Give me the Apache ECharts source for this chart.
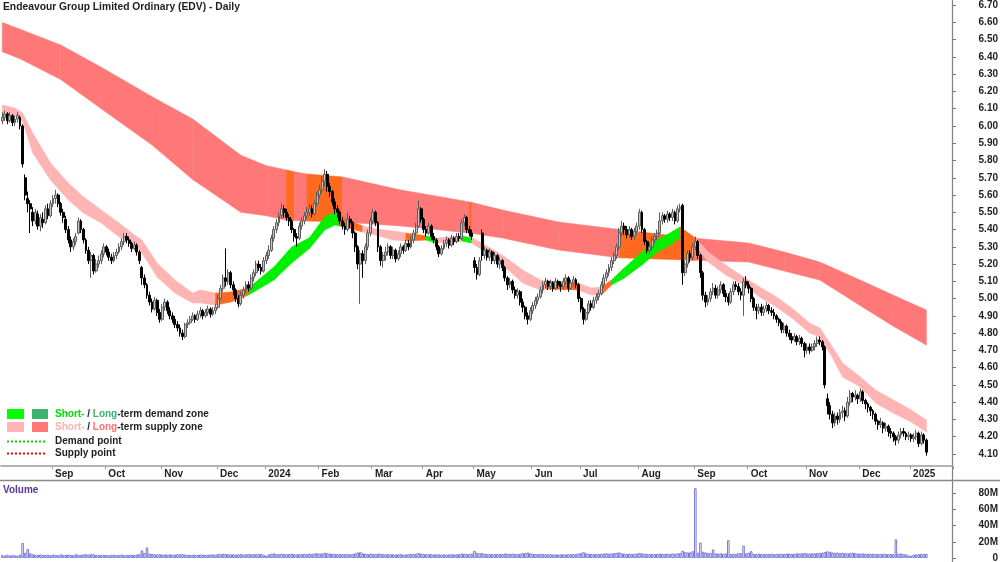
<!DOCTYPE html>
<html>
<head>
<meta charset="utf-8">
<script src="https://cdn.jsdelivr.net/npm/echarts@6/dist/echarts.min.js"></script>
<style>html,body{margin:0;padding:0;background:#fff}#chart{width:1000px;height:562px}</style>
</head>
<body>
<div id="chart"></div>
<script>
// daily candles, [open, close, low, high], from 4 Aug 2023
const ohlc = [
[6.03,6.05,6.01,6.08],[6.05,6.07,6.03,6.09],[6.07,6.03,6.01,6.08],[6.03,6.06,6.02,6.08],[6.06,6.02,6.00,6.07],
[6.02,6.04,6.00,6.06],[6.04,6.06,6.02,6.08],[6.05,6.00,5.98,6.06],[6.00,5.78,5.76,6.01],[5.70,5.60,5.57,5.72],
[5.58,5.55,5.50,5.62],[5.55,5.52,5.38,5.57],[5.50,5.45,5.42,5.53],[5.45,5.50,5.43,5.52],[5.49,5.42,5.40,5.51],
[5.42,5.47,5.39,5.49],[5.46,5.44,5.41,5.50],[5.44,5.52,5.43,5.54],[5.52,5.48,5.46,5.55],[5.48,5.55,5.47,5.57],
[5.55,5.58,5.53,5.60],[5.58,5.60,5.55,5.63],[5.60,5.55,5.53,5.61],[5.55,5.50,5.48,5.56],[5.50,5.47,5.44,5.52],
[5.46,5.40,5.38,5.48],[5.40,5.34,5.32,5.42],[5.34,5.30,5.27,5.36],[5.30,5.33,5.28,5.35],[5.33,5.36,5.31,5.38],
[5.38,5.45,5.37,5.47],[5.45,5.40,5.38,5.46],[5.40,5.34,5.32,5.41],[5.34,5.28,5.26,5.35],[5.28,5.22,5.20,5.30],
[5.22,5.25,5.12,5.27],[5.25,5.16,5.14,5.26],[5.16,5.20,5.15,5.23],[5.20,5.22,5.18,5.25],[5.22,5.26,5.20,5.28],
[5.26,5.30,5.24,5.32],[5.30,5.27,5.25,5.31],[5.27,5.24,5.22,5.29],[5.24,5.22,5.20,5.26],[5.22,5.25,5.21,5.27],
[5.25,5.27,5.23,5.29],[5.27,5.30,5.26,5.32],[5.30,5.33,5.28,5.35],[5.33,5.36,5.31,5.38],[5.36,5.34,5.32,5.38],
[5.34,5.32,5.30,5.36],[5.32,5.29,5.27,5.33],[5.29,5.31,5.28,5.33],[5.31,5.27,5.25,5.32],[5.27,5.22,5.20,5.28],
[5.18,5.12,5.08,5.19],[5.12,5.08,5.06,5.14],[5.08,5.02,5.00,5.09],[5.02,4.98,4.96,5.04],[4.98,4.94,4.92,5.00],
[4.94,4.99,4.93,5.01],[4.99,4.92,4.90,5.00],[4.92,4.88,4.86,4.94],[4.88,4.95,4.87,4.97],[4.95,4.98,4.93,5.00],
[4.98,4.93,4.91,4.99],[4.93,4.90,4.88,4.95],[4.90,4.88,4.86,4.92],[4.88,4.85,4.83,4.90],[4.85,4.83,4.81,4.87],
[4.83,4.80,4.78,4.85],[4.80,4.78,4.76,4.82],[4.78,4.85,4.77,4.86],[4.85,4.86,4.83,4.88],[4.86,4.88,4.85,4.90],
[4.88,4.90,4.87,4.92],[4.90,4.88,4.86,4.91],[4.88,4.91,4.87,4.93],[4.91,4.93,4.89,4.95],[4.93,4.90,4.88,4.94],
[4.90,4.92,4.89,4.94],[4.92,4.94,4.90,4.96],[4.94,4.91,4.89,4.95],[4.91,4.93,4.90,4.95],[4.93,4.95,4.91,4.97],
[4.95,5.00,4.94,5.02],[5.00,5.06,4.99,5.08],[5.06,5.12,5.04,5.14],[5.12,5.10,5.07,5.29],[5.10,5.15,5.08,5.17],
[5.15,5.08,5.06,5.16],[5.08,5.05,5.02,5.10],[5.05,5.00,4.98,5.06],[5.00,4.97,4.95,5.02],[4.97,5.02,4.96,5.04],
[5.02,5.05,5.00,5.07],[5.05,5.08,5.03,5.10],[5.08,5.06,5.04,5.10],[5.06,5.12,5.05,5.14],[5.12,5.15,5.10,5.17],
[5.15,5.20,5.13,5.22],[5.20,5.18,5.16,5.22],[5.18,5.16,5.14,5.20],[5.16,5.22,5.15,5.24],[5.22,5.25,5.20,5.27],
[5.25,5.28,5.23,5.31],[5.28,5.35,5.27,5.37],[5.35,5.40,5.33,5.42],[5.40,5.44,5.38,5.46],[5.44,5.48,5.42,5.50],
[5.48,5.52,5.46,5.55],[5.52,5.50,5.47,5.54],[5.50,5.47,5.45,5.52],[5.47,5.45,5.42,5.49],[5.45,5.40,5.38,5.46],
[5.40,5.36,5.33,5.41],[5.36,5.35,5.30,5.38],[5.35,5.42,5.34,5.44],[5.42,5.45,5.40,5.47],[5.45,5.48,5.43,5.50],
[5.48,5.50,5.46,5.53],[5.50,5.52,5.48,5.55],[5.52,5.49,5.47,5.54],[5.49,5.55,5.48,5.57],[5.55,5.60,5.53,5.62],
[5.60,5.63,5.58,5.66],[5.63,5.68,5.61,5.71],[5.68,5.72,5.65,5.75],[5.72,5.65,5.62,5.74],[5.65,5.62,5.59,5.67],
[5.62,5.56,5.54,5.63],[5.56,5.52,5.49,5.58],[5.52,5.50,5.47,5.54],[5.50,5.45,5.43,5.51],[5.45,5.42,5.40,5.47],
[5.42,5.40,5.37,5.44],[5.40,5.46,5.39,5.50],[5.46,5.44,5.41,5.48],[5.44,5.38,5.35,5.45],[5.38,5.30,5.27,5.39],
[5.30,5.20,5.17,5.31],[5.20,5.26,4.97,5.28],[5.26,5.22,5.12,5.28],[5.22,5.30,5.20,5.32],[5.30,5.38,5.28,5.40],
[5.38,5.45,5.36,5.47],[5.45,5.50,5.43,5.52],[5.50,5.44,5.42,5.51],[5.44,5.30,5.27,5.45],[5.30,5.22,5.19,5.31],
[5.22,5.25,5.18,5.27],[5.25,5.27,5.22,5.30],[5.27,5.30,5.25,5.32],[5.30,5.25,5.23,5.31],[5.25,5.28,5.23,5.30],
[5.28,5.23,5.21,5.29],[5.23,5.26,5.22,5.28],[5.26,5.30,5.24,5.32],[5.30,5.28,5.26,5.31],[5.28,5.32,5.27,5.34],
[5.32,5.30,5.28,5.34],[5.30,5.34,5.29,5.36],[5.34,5.38,5.32,5.40],[5.38,5.42,5.36,5.44],[5.42,5.52,5.41,5.57],
[5.52,5.46,5.44,5.53],[5.46,5.40,5.38,5.47],[5.40,5.38,5.36,5.42],[5.38,5.42,5.37,5.44],[5.42,5.36,5.34,5.43],
[5.36,5.34,5.32,5.38],[5.34,5.30,5.28,5.35],[5.30,5.26,5.24,5.31],[5.26,5.29,5.25,5.31],[5.29,5.32,5.28,5.34],
[5.32,5.34,5.30,5.36],[5.34,5.31,5.29,5.35],[5.31,5.35,5.30,5.37],[5.35,5.33,5.31,5.36],[5.33,5.36,5.32,5.38],
[5.36,5.35,5.33,5.38],[5.35,5.44,5.34,5.46],[5.44,5.47,5.42,5.49],[5.47,5.40,5.38,5.48],[5.40,5.38,5.36,5.42],
[5.38,5.36,5.34,5.40],[5.22,5.18,5.15,5.24],[5.18,5.14,5.11,5.20],[5.14,5.22,5.13,5.24],[5.38,5.25,5.22,5.40],
[5.25,5.28,5.23,5.30],[5.28,5.24,5.22,5.29],[5.24,5.27,5.22,5.29],[5.27,5.22,5.20,5.28],[5.22,5.25,5.20,5.27],
[5.25,5.20,5.18,5.26],[5.20,5.22,5.17,5.24],[5.22,5.18,5.16,5.23],[5.18,5.12,5.10,5.19],[5.12,5.08,5.05,5.13],
[5.08,5.10,5.06,5.12],[5.10,5.05,5.03,5.11],[5.05,5.02,5.00,5.07],[5.02,5.04,5.00,5.06],[5.04,4.98,4.96,5.05],
[4.98,4.95,4.92,5.00],[4.95,4.90,4.88,4.96],[4.90,4.88,4.85,4.92],[4.88,4.93,4.87,4.95],[4.93,4.96,4.91,4.98],
[4.96,4.99,4.94,5.01],[4.99,5.01,4.97,5.03],[5.01,5.05,5.00,5.07],[5.05,5.08,5.03,5.10],[5.08,5.10,5.06,5.12],
[5.10,5.07,5.05,5.11],[5.07,5.09,5.05,5.11],[5.09,5.06,5.04,5.10],[5.06,5.10,5.05,5.12],[5.10,5.08,5.06,5.11],
[5.08,5.07,5.04,5.10],[5.07,5.10,5.05,5.12],[5.10,5.12,5.08,5.14],[5.12,5.06,5.04,5.13],[5.06,5.09,5.05,5.11],
[5.09,5.11,5.07,5.13],[5.11,5.08,5.06,5.12],[5.08,5.00,4.98,5.09],[5.00,4.94,4.92,5.01],[4.94,4.88,4.85,4.95],
[4.88,4.92,4.87,4.94],[4.92,4.97,4.91,4.99],[4.97,4.95,4.93,4.99],[4.95,4.99,4.94,5.01],[4.99,5.01,4.97,5.03],
[5.01,5.03,4.99,5.05],[5.03,5.08,5.02,5.10],[5.08,5.12,5.06,5.14],[5.12,5.15,5.10,5.17],[5.15,5.18,5.13,5.20],
[5.18,5.22,5.16,5.24],[5.22,5.25,5.20,5.27],[5.25,5.30,5.23,5.32],[5.30,5.38,5.28,5.41],[5.38,5.42,5.36,5.45],
[5.42,5.40,5.37,5.44],[5.40,5.37,5.35,5.42],[5.37,5.40,5.35,5.42],[5.40,5.36,5.34,5.41],[5.36,5.39,5.34,5.41],
[5.39,5.42,5.37,5.44],[5.42,5.50,5.40,5.52],[5.50,5.40,5.38,5.51],[5.40,5.33,5.31,5.41],[5.33,5.28,5.26,5.34],
[5.28,5.30,5.26,5.32],[5.30,5.34,5.28,5.36],[5.34,5.36,5.32,5.38],[5.36,5.38,5.34,5.40],[5.38,5.45,5.37,5.50],
[5.45,5.48,5.43,5.50],[5.48,5.46,5.44,5.49],[5.46,5.49,5.44,5.51],[5.49,5.47,5.45,5.50],[5.47,5.50,5.45,5.52],
[5.50,5.45,5.43,5.51],[5.45,5.52,5.44,5.54],[5.52,5.53,5.50,5.55],[5.54,5.15,5.08,5.55],[5.15,5.20,5.13,5.22],
[5.20,5.26,5.18,5.28],[5.26,5.24,5.21,5.28],[5.24,5.30,5.22,5.32],[5.30,5.33,5.28,5.36],[5.33,5.25,5.23,5.34],
[5.25,5.15,5.12,5.26],[5.15,5.02,4.99,5.16],[5.02,4.98,4.95,5.04],[4.98,5.00,4.96,5.02],[5.00,5.04,4.98,5.06],
[5.04,5.06,5.02,5.09],[5.06,5.02,5.00,5.08],[5.02,5.05,5.00,5.07],[5.05,5.08,5.03,5.10],[5.08,5.03,5.01,5.09],
[5.03,5.01,4.98,5.05],[5.01,4.98,4.96,5.03],[4.98,5.04,4.97,5.06],[5.04,5.08,5.02,5.10],[5.08,5.07,5.05,5.10],
[5.07,5.04,5.02,5.09],[5.04,5.02,4.99,5.06],[5.02,5.10,4.90,5.12],[5.10,5.08,5.06,5.13],[5.08,5.06,5.03,5.10],
[5.06,5.00,4.98,5.07],[5.00,4.95,4.93,5.01],[4.95,4.93,4.88,4.97],[4.93,4.95,4.91,4.97],[4.95,4.92,4.90,4.97],
[4.92,4.94,4.90,4.96],[4.94,4.96,4.92,4.98],[4.96,4.93,4.91,4.97],[4.93,4.92,4.90,4.95],[4.92,4.90,4.88,4.94],
[4.90,4.88,4.86,4.91],[4.88,4.86,4.84,4.89],[4.86,4.82,4.80,4.87],[4.82,4.84,4.80,4.86],[4.84,4.80,4.78,4.85],
[4.80,4.78,4.76,4.82],[4.78,4.76,4.74,4.80],[4.76,4.78,4.75,4.80],[4.78,4.75,4.73,4.79],[4.75,4.77,4.73,4.79],
[4.77,4.74,4.72,4.78],[4.74,4.70,4.66,4.75],[4.70,4.72,4.68,4.74],[4.72,4.70,4.68,4.74],[4.70,4.72,4.69,4.74],
[4.72,4.74,4.70,4.76],[4.74,4.76,4.72,4.78],[4.76,4.75,4.73,4.78],[4.75,4.72,4.70,4.76],[4.72,4.50,4.48,4.73],
[4.42,4.38,4.33,4.45],[4.38,4.33,4.30,4.40],[4.33,4.28,4.25,4.35],[4.28,4.32,4.26,4.34],[4.32,4.30,4.27,4.34],
[4.30,4.34,4.28,4.36],[4.34,4.35,4.31,4.38],[4.35,4.32,4.29,4.37],[4.32,4.40,4.31,4.43],[4.40,4.45,4.38,4.47],
[4.45,4.43,4.40,4.46],[4.43,4.44,4.41,4.47],[4.44,4.42,4.39,4.45],[4.42,4.46,4.40,4.48],[4.46,4.41,4.39,4.47],
[4.41,4.39,4.36,4.42],[4.39,4.37,4.34,4.40],[4.37,4.35,4.32,4.38],[4.35,4.33,4.30,4.36],[4.33,4.29,4.27,4.34],
[4.29,4.27,4.24,4.30],[4.27,4.28,4.25,4.31],[4.28,4.25,4.22,4.29],[4.25,4.26,4.23,4.28],[4.26,4.23,4.20,4.27],
[4.23,4.22,4.19,4.25],[4.22,4.20,4.17,4.23],[4.20,4.18,4.15,4.21],[4.18,4.21,4.16,4.23],[4.21,4.23,4.19,4.25],
[4.23,4.22,4.20,4.25],[4.22,4.20,4.18,4.23],[4.20,4.21,4.18,4.23],[4.21,4.19,4.17,4.22],[4.19,4.20,4.17,4.22],
[4.20,4.22,4.18,4.24],[4.22,4.16,4.14,4.23],[4.16,4.21,4.15,4.23],[4.21,4.18,4.16,4.22],[4.18,4.11,4.09,4.19]
];

// daily volume, millions of shares
const volumeM = [
3.5,3.2,4.0,3.1,3.6,3.3,2.9,4.2,18.5,6.5, 11.0,5.8,4.6,4.0,3.9,4.4,3.6,3.8,4.1,3.5,
4.2,3.9,3.6,4.5,3.8,4.0,4.3,3.7,3.5,4.6, 4.1,3.9,4.4,4.8,4.2,5.1,4.6,3.8,3.9,3.6,
4.0,3.7,3.4,3.9,4.1,3.6,3.8,4.2,3.5,3.7, 3.9,4.1,3.6,4.3,4.8,9.5,6.2,13.0,5.5,4.9,
4.6,4.4,4.8,4.2,4.5,4.1,4.7,4.0,4.3,4.9, 4.5,4.8,4.2,4.0,3.8,4.1,3.7,3.9,4.4,4.2,
3.8,4.0,4.3,4.6,4.1,5.2,4.8,5.5,5.0,4.7, 4.4,4.6,4.2,4.5,4.9,4.3,4.7,5.1,4.5,4.8,
4.6,5.2,4.9,3.9,2.8,4.5,5.3,5.8,5.1,4.7, 5.4,5.0,4.6,4.9,5.3,4.7,4.4,5.0,4.8,5.2,
4.9,5.5,5.1,5.7,6.0,5.4,5.8,6.5,5.9,5.6, 5.3,5.0,4.8,5.1,4.7,4.9,5.2,4.6,5.0,5.8,
6.8,7.5,5.9,5.2,4.9,5.4,5.1,4.7,5.6,5.2, 4.8,4.6,4.9,4.5,4.7,4.4,4.6,4.8,4.3,4.5,
4.7,4.9,5.1,5.3,6.2,5.5,5.0,4.8,4.6,4.9, 4.4,4.7,4.5,4.3,4.6,4.2,4.5,4.8,4.4,4.6,
4.7,5.6,5.2,4.9,5.1,5.4,8.8,6.5,5.8,6.2, 5.3,5.0,4.8,5.1,4.7,4.9,5.2,5.0,5.6,5.3,
5.1,5.4,5.0,4.8,5.5,5.9,6.3,6.8,5.7,5.2, 5.0,4.8,5.1,4.9,4.7,4.5,4.8,4.4,4.6,4.3,
4.5,4.7,4.4,4.8,4.6,4.9,5.1,5.6,6.4,7.2, 5.8,5.2,5.0,4.8,5.1,4.9,5.3,5.6,5.9,5.4,
5.7,6.0,6.5,6.9,5.8,5.5,5.2,5.4,5.0,5.3, 5.6,6.1,5.8,5.4,5.1,4.9,5.0,4.8,5.2,5.5,
5.3,5.0,5.4,5.1,5.6,5.3,5.8,6.2,9.0,7.5, 6.8,7.0,8.4,86.0,6.5,19.0,7.8,6.9,6.2,6.0,
10.5,5.8,5.5,5.9,5.2,5.6,22.0,4.9,5.4,5.1, 6.3,5.9,15.2,5.7,6.6,8.5,5.2,5.0,5.4,5.0,
4.8,5.1,4.9,5.3,4.7,5.0,5.5,5.2,4.9,5.4, 5.6,5.1,5.3,5.8,5.5,5.9,6.2,5.7,5.6,6.0,
5.8,6.1,6.3,6.6,7.5,8.2,7.8,6.9,6.5,6.8, 6.2,6.5,6.0,5.8,6.3,6.7,5.9,5.6,5.4,5.7,
5.3,5.5,5.1,5.4,5.0,5.2,4.9,5.3,5.1,4.8, 5.0,4.7,23.0,5.2,5.6,4.9,4.6,3.2,2.8,4.2,
4.5,4.8,5.2,5.0,5.4
];

// long-term supply zone: sample day index, lower / upper price, state of the following stretch
const longIdx = [0,7,23,39,59,75,94,104,112,115,120,134,157,173,184,185,197,219,243,273,294,308,322,339,351,364];
const longLo = [6.43,6.39,6.27,6.10,5.89,5.69,5.50,5.48,5.455,5.452,5.450,5.444,5.421,5.397,5.380,5.378,5.351,5.282,5.237,5.222,5.212,5.16,5.108,4.95,4.84,4.731];
const longHi = [6.60,6.56,6.47,6.34,6.17,6.04,5.83,5.77,5.745,5.735,5.722,5.705,5.629,5.589,5.56,5.557,5.513,5.444,5.400,5.349,5.322,5.27,5.212,5.10,5.02,4.934];
const longState = ['S','S','S','S','S','S','S','S','N','S','N','S','S','S','N','S','S','S','N','S','S','S','S','S','S'];

// short-term zone
const shortIdx = [0,5,8,12,19,26,32,39,46,51,55,61,68,75,78,84,90,97,107,114,121,127,131,133,136,142,147,154,159,167,171,181,185,189,198,205,212,214,227,232,236,240,245,252,258,263,267,273,278,285,292,299,305,312,318,322,326,331,338,344,351,358,364];
const shortLo = [6.058,6.058,6.029,5.844,5.687,5.571,5.496,5.438,5.357,5.322,5.264,5.125,5.032,4.975,4.975,4.963,4.980,5.021,5.108,5.206,5.290,5.397,5.426,5.420,5.409,5.386,5.368,5.339,5.334,5.339,5.322,5.334,5.322,5.282,5.183,5.090,5.050,5.056,5.050,5.021,5.021,5.079,5.119,5.195,5.270,5.310,5.351,5.310,5.212,5.137,5.079,5.003,4.951,4.876,4.801,4.778,4.685,4.546,4.488,4.395,4.337,4.285,4.227];
const shortHi = [6.122,6.104,6.075,5.959,5.786,5.670,5.589,5.513,5.438,5.380,5.339,5.206,5.108,5.032,5.050,5.032,5.038,5.061,5.183,5.299,5.352,5.473,5.502,5.495,5.455,5.421,5.403,5.392,5.380,5.363,5.351,5.363,5.351,5.322,5.241,5.166,5.108,5.102,5.090,5.061,5.067,5.108,5.177,5.270,5.339,5.380,5.415,5.351,5.270,5.195,5.125,5.061,5.009,4.934,4.859,4.830,4.743,4.627,4.546,4.470,4.413,4.355,4.297];
const shortState = ['S','S','S','S','S','S','S','S','S','S', 'S','S','S','S','S','N','N','D','D','D', 'D','D','D','N','N','S','S','S','N','D', 'S','D','S','S','S','S','S','N','S','S', 'N','D','D','D','D','D','N','S','S','S', 'S','S','S','S','S','S','S','S','S','S', 'S','S'];

const holidays = ['2023-12-25','2023-12-26','2024-01-01','2024-01-26','2024-03-29','2024-04-01','2024-04-25','2024-06-10','2024-12-25','2024-12-26','2025-01-01'];
const monthNames = ['Jan','Feb','Mar','Apr','May','Jun','Jul','Aug','Sep','Oct','Nov','Dec'];
const padDays = 10;

const longColors = {S: '#ff7878', N: '#ff6a1f'};
const shortColors = {S: '#ffb4b4', N: '#ff6a1f', D: '#00f000'};
const FONT = 'Liberation Sans';

// trading-day categories
const dates = [];
const d = new Date(Date.UTC(2023, 7, 4));
while (dates.length < ohlc.length + padDays) {
  const s = d.toISOString().slice(0, 10);
  const wd = d.getUTCDay();
  if (wd !== 0 && wd !== 6 && holidays.indexOf(s) < 0) dates.push(s);
  d.setUTCDate(d.getUTCDate() + 1);
}
function monthStart(i) {
  return i > 0 && dates[i].slice(0, 7) !== dates[i - 1].slice(0, 7);
}

function bandSeries(idx, lo, hi, state, colors) {
  const segs = [];
  for (let i = 0; i < idx.length - 1; i++) {
    segs.push([idx[i], lo[i], hi[i], idx[i + 1], lo[i + 1], hi[i + 1]]);
  }
  return {
    type: 'custom',
    xAxisIndex: 0, yAxisIndex: 0,
    silent: true, clip: true,
    renderItem: function (params, api) {
      const a = api.coord([api.value(0), api.value(1)]);
      const b = api.coord([api.value(0), api.value(2)]);
      const c = api.coord([api.value(3), api.value(5)]);
      const e = api.coord([api.value(3), api.value(4)]);
      const col = colors[state[params.dataIndex]];
      return {type: 'polygon', shape: {points: [a, b, c, e]}, style: {fill: col, stroke: col, lineWidth: 0.6}};
    },
    data: segs
  };
}

const chart = echarts.init(document.getElementById('chart'));
const lbl = {fontFamily: FONT, fontWeight: 'bold', fontSize: 10, color: '#1e1e1e'};

function txt(x, y, text, rich) {
  return {
    type: 'text', x: x, y: y, silent: true,
    style: {text: text, fill: '#1e1e1e', fontFamily: FONT, fontWeight: 'bold', fontSize: 10, verticalAlign: 'middle', rich: rich || {}}
  };
}
const rs = c => ({fill: c, fontFamily: FONT, fontWeight: 'bold', fontSize: 10});

chart.setOption({
  animation: false,
  backgroundColor: '#fff',
  title: {
    text: 'Endeavour Group Limited Ordinary (EDV) - Daily',
    left: 3, top: 2, padding: 0,
    textStyle: {fontFamily: FONT, fontWeight: 'bold', fontSize: 10.3, color: '#1e1e1e'}
  },
  grid: [
    {left: 1, right: 47, top: -12.08, height: 483.3, outerBoundsMode: 'none', containLabel: false},
    {left: 1, right: 47, top: 480, height: 78, outerBoundsMode: 'none', containLabel: false}
  ],
  xAxis: [
    {
      type: 'category', gridIndex: 0, data: dates, boundaryGap: true, offset: -5,
      axisLine: {show: true, onZero: false, lineStyle: {color: '#9a9a9a', width: 1.5}},
      axisTick: {show: true, interval: monthStart, length: 3, lineStyle: {color: '#9a9a9a'}},
      axisLabel: Object.assign({}, lbl, {
        interval: monthStart, margin: 3, align: 'left', padding: [0, 0, 0, 2],
        formatter: function (v) { const m = +v.slice(5, 7); return m === 1 ? v.slice(0, 4) : monthNames[m - 1]; }
      }),
      splitLine: {show: false}
    },
    {type: 'category', gridIndex: 1, data: dates, boundaryGap: true, show: false}
  ],
  yAxis: [
    {
      type: 'value', gridIndex: 0, position: 'right', min: 4.0, max: 6.8, interval: 0.1,
      axisLine: {show: false},
      axisTick: {show: true, length: 3, lineStyle: {color: '#777'}},
      axisLabel: Object.assign({}, lbl, {margin: 45, align: 'right', showMinLabel: false, showMaxLabel: false,
        formatter: v => v.toFixed(2)}),
      splitLine: {show: false}
    },
    {
      type: 'value', gridIndex: 1, position: 'right', min: 0, max: 96, interval: 20,
      axisLine: {show: false},
      axisTick: {show: true, length: 3, lineStyle: {color: '#777'}},
      axisLabel: Object.assign({}, lbl, {margin: 45, align: 'right', showMaxLabel: false,
        formatter: v => v === 0 ? '0' : v + 'M'}),
      splitLine: {show: false}
    }
  ],
  series: [
    bandSeries(longIdx, longLo, longHi, longState, longColors),
    bandSeries(shortIdx, shortLo, shortHi, shortState, shortColors),
    {
      type: 'candlestick', xAxisIndex: 0, yAxisIndex: 0, barWidth: 2.4,
      itemStyle: {color: '#c4c4c4', borderColor: '#5e5e5e', color0: '#000', borderColor0: '#000', borderWidth: 1},
      data: ohlc
    },
    {
      type: 'bar', xAxisIndex: 1, yAxisIndex: 1, barCategoryGap: '0%',
      itemStyle: {color: '#ffffff', borderColor: '#7878d8', borderWidth: 1},
      data: volumeM
    }
  ],
  graphic: [
    {type: 'line', silent: true, shape: {x1: 952.5, y1: 0, x2: 952.5, y2: 562}, style: {stroke: '#808080', lineWidth: 1.2}},
    {type: 'line', silent: true, shape: {x1: 0, y1: 480.5, x2: 1000, y2: 480.5}, style: {stroke: '#888', lineWidth: 1.5}},
    {type: 'rect', silent: true, shape: {x: 7, y: 409, width: 17, height: 10}, style: {fill: '#00ff00'}},
    {type: 'rect', silent: true, shape: {x: 32, y: 409, width: 16, height: 10}, style: {fill: '#3cb371'}},
    txt(55, 414.5, '{g|Short-} / {dg|Long}-term demand zone', {g: rs('#00e000'), dg: rs('#3cb371')}),
    {type: 'rect', silent: true, shape: {x: 7, y: 422, width: 17, height: 10}, style: {fill: '#ffb6b6'}},
    {type: 'rect', silent: true, shape: {x: 32, y: 422, width: 16, height: 10}, style: {fill: '#ff7777'}},
    txt(55, 427.5, '{p|Short-} / {r|Long}-term supply zone', {p: rs('#ffb0b0'), r: rs('#ff6f6f')}),
    {type: 'line', silent: true, shape: {x1: 7, y1: 441.5, x2: 45, y2: 441.5}, style: {stroke: '#00dd00', lineWidth: 2, lineDash: [2, 2]}},
    txt(55, 441, 'Demand point'),
    {type: 'line', silent: true, shape: {x1: 7, y1: 453.5, x2: 45, y2: 453.5}, style: {stroke: '#ff0000', lineWidth: 2, lineDash: [2, 2]}},
    txt(55, 453, 'Supply point'),
    {type: 'text', x: 3, y: 490, silent: true,
     style: {text: 'Volume', fill: '#55339a', fontFamily: FONT, fontWeight: 'bold', fontSize: 10, verticalAlign: 'middle'}}
  ]
});
</script>
</body>
</html>
